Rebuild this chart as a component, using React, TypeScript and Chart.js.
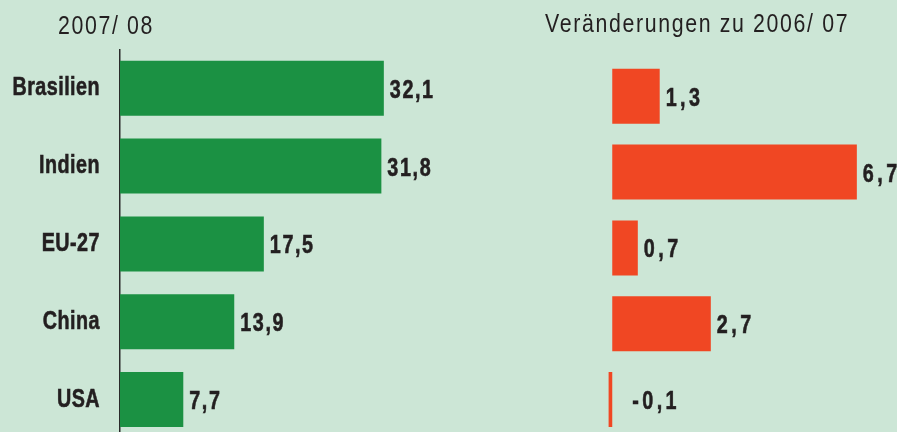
import React, { useEffect, useRef } from 'react';
import { Chart, registerables } from 'chart.js';
Chart.register(...registerables);

const categories = ['Brasilien', 'Indien', 'EU-27', 'China', 'USA'];
const values2007 = [32.1, 31.8, 17.5, 13.9, 7.7];
const changes = [1.3, 6.7, 0.7, 2.7, -0.1];
const leftTitle = '2007/ 08';
const rightTitle = 'Veränderungen zu 2006/ 07';

const BG = '#cce6d6';
const GREEN = '#1b9143';
const RED = '#f04723';
const TEXT = '#231f20';
const FONT = '"Liberation Sans", Arial, sans-serif';
const SX = 0.76; // horizontal condensing of bold text
const SX_TITLE = 0.82;

const fmt = (v: number) => v.toFixed(1).replace('.', ',');

const valueLabels = {
  id: 'valueLabels',
  afterDatasetsDraw(chart: any, _args: any, opts: any) {
    const ctx = chart.ctx;
    const meta = chart.getDatasetMeta(0);
    const data = chart.data.datasets[0].data as number[];
    const zeroX = chart.scales.x.getPixelForValue(0);
    ctx.save();
    ctx.font = `bold 26px ${FONT}`;
    ctx.fillStyle = TEXT;
    ctx.strokeStyle = TEXT;
    ctx.lineWidth = 0.6;
    ctx.textBaseline = 'alphabetic';
    ctx.textAlign = 'left';
    ctx.letterSpacing = `${opts.spacing ?? 2}px`;
    meta.data.forEach((bar: any, i: number) => {
      const v = data[i];
      const x = v < 0 ? zeroX + 20 : bar.x + 6;
      ctx.save();
      ctx.translate(x, bar.y + 9.5);
      ctx.scale(SX, 1);
      ctx.fillText(fmt(v), 0, 0);
      ctx.strokeText(fmt(v), 0, 0);
      ctx.restore();
    });
    ctx.restore();
  },
};

// draw the category tick labels condensed (Chart.js still draws them)
const condensedTicks = {
  id: 'condensedTicks',
  beforeDraw(chart: any) {
    const s = chart.scales.y;
    if (!s || s._condensed) return;
    const orig = s.drawLabels.bind(s);
    s._computeLabelArea = () => undefined;
    s.drawLabels = function (area: any) {
      const ctx = this.ctx;
      const ax = this.right - 20;
      ctx.save();
      ctx.letterSpacing = '0.6px';
      ctx.translate(ax, 0);
      ctx.scale(SX, 1);
      ctx.translate(-ax, 0);
      orig(area);
      ctx.restore();
    };
    s._condensed = true;
  },
};

export default function App() {
  const leftRef = useRef<HTMLCanvasElement>(null);
  const rightRef = useRef<HTMLCanvasElement>(null);

  useEffect(() => {
    const left = new Chart(leftRef.current!, {
      type: 'bar',
      data: {
        labels: categories,
        datasets: [
          {
            data: values2007,
            backgroundColor: GREEN,
            barPercentage: 0.707,
            categoryPercentage: 1,
          },
        ],
      },
      options: {
        indexAxis: 'y',
        responsive: false,
        maintainAspectRatio: false,
        animation: false,
        layout: { padding: { top: 49.4, bottom: 1.6, left: 0, right: 0 } },
        plugins: {
          legend: { display: false },
          tooltip: { enabled: false },
          valueLabels: { spacing: 2.1 },
        },
        scales: {
          x: { display: false, min: 0, max: 51.1 },
          y: {
            afterFit: (s: any) => {
              s.width = 120;
              s.paddingTop = 0;
              s.paddingBottom = 0;
            },
            grid: { display: true, drawOnChartArea: false, drawTicks: false },
            border: { display: true, color: '#2a2a2a', width: 1.5 },
            ticks: {
              padding: 20,
              color: TEXT,
              textStrokeColor: TEXT,
              textStrokeWidth: 0.6,
              font: { family: FONT, size: 26, weight: 'bold' },
            },
          },
        },
      } as any,
      plugins: [condensedTicks, valueLabels],
    });

    const right = new Chart(rightRef.current!, {
      type: 'bar',
      data: {
        labels: categories,
        datasets: [
          {
            data: changes,
            backgroundColor: RED,
            barPercentage: 0.726,
            categoryPercentage: 1,
          },
        ],
      },
      options: {
        indexAxis: 'y',
        responsive: false,
        maintainAspectRatio: false,
        animation: false,
        layout: { padding: { top: 58.4, bottom: 2.6, left: 34, right: 0 } },
        plugins: {
          legend: { display: false },
          tooltip: { enabled: false },
          valueLabels: { spacing: 4.5 },
        },
        scales: {
          x: {
            min: -0.5,
            max: 7.8,
            afterFit: (s: any) => {
              s.height = 0;
            },
            ticks: { display: false, stepSize: 1 },
            border: { display: false },
            grid: {
              drawTicks: false,
              lineWidth: 1.5,
              color: (c: any) => (c.tick && c.tick.value === 0 ? '#7b807d' : 'rgba(0,0,0,0)'),
            },
          },
          y: { display: false },
        },
      } as any,
      plugins: [valueLabels],
    });

    return () => {
      left.destroy();
      right.destroy();
    };
  }, []);

  const titleStyle: React.CSSProperties = {
    position: 'absolute',
    fontFamily: FONT,
    fontSize: 26,
    lineHeight: '26px',
    letterSpacing: '2px',
    color: TEXT,
    whiteSpace: 'nowrap',
    transform: `scaleX(${SX_TITLE})`,
    transformOrigin: 'left top',
  };

  return (
    <div
      style={{
        position: 'fixed',
        left: 0,
        top: 0,
        width: 897,
        height: 432,
        overflow: 'hidden',
        background: BG,
      }}
    >
      <canvas
        ref={leftRef}
        width={540}
        height={440}
        style={{ position: 'absolute', left: 0, top: 0, width: 540, height: 440 }}
      />
      <canvas
        ref={rightRef}
        width={337}
        height={440}
        style={{ position: 'absolute', left: 560, top: 0, width: 337, height: 440 }}
      />
      <div style={{ ...titleStyle, left: 58, top: 12 }}>{leftTitle}</div>
      <div style={{ ...titleStyle, left: 545, top: 9.5 }}>{rightTitle}</div>
    </div>
  );
}
